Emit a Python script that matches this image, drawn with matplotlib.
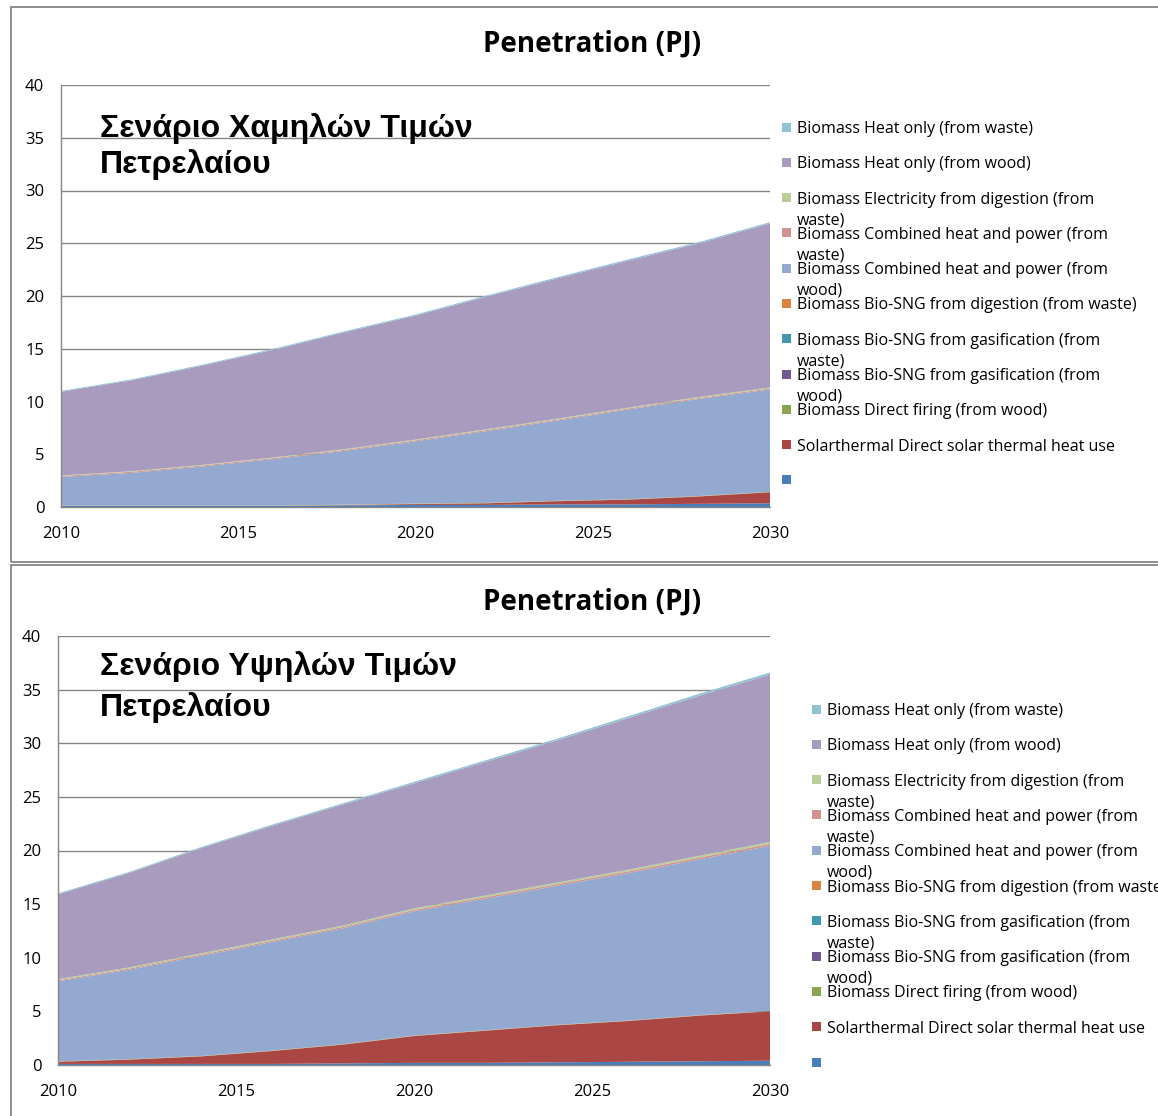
import matplotlib
matplotlib.use("Agg")
import matplotlib.pyplot as plt
from matplotlib.patches import Rectangle

# ---- data (PJ) ----
years = [2010, 2012, 2014, 2016, 2018, 2020, 2022, 2024, 2026, 2028, 2030]

series_names = [
    "",
    "Solarthermal Direct solar thermal heat use",
    "Biomass Direct firing (from wood)",
    "Biomass Bio-SNG from gasification (from\nwood)",
    "Biomass Bio-SNG from gasification (from\nwaste)",
    "Biomass Bio-SNG from digestion (from waste)",
    "Biomass Combined heat and power (from\nwood)",
    "Biomass Combined heat and power (from\nwaste)",
    "Biomass Electricity from digestion (from\nwaste)",
    "Biomass Heat only (from wood)",
    "Biomass Heat only (from waste)",
]
series_colors = [
    "#4A7EBB", "#AA4643", "#89A54E", "#71588F", "#4198AF", "#DB843D",
    "#93A9CF", "#D19392", "#B9CD96", "#A99BBD", "#92C3D4",
]

# Low oil price scenario
low_blank = [0.10, 0.10, 0.10, 0.10, 0.15, 0.20, 0.20, 0.25, 0.25, 0.30, 0.35]
low_solar = [0.00, 0.00, 0.00, 0.00, 0.03, 0.08, 0.15, 0.30, 0.45, 0.70, 1.05]
low_direct_wood = [0.02] * 11
low_sng_gas_wood = [0.00] * 11
low_sng_gas_waste = [0.00] * 11
low_sng_digestion = [0.02] * 11
low_chp_wood = [2.70, 3.10, 3.70, 4.40, 5.10, 5.90, 6.80, 7.60, 8.50, 9.20, 9.70]
low_chp_waste = [0.10, 0.10, 0.10, 0.10, 0.10, 0.10, 0.10, 0.10, 0.10, 0.10, 0.10]
low_elec_digestion = [0.05, 0.05, 0.06, 0.06, 0.07, 0.07, 0.08, 0.08, 0.08, 0.09, 0.09]
low_heat_wood = [7.93, 8.63, 9.41, 10.21, 11.07, 11.75, 12.56, 13.30, 13.93, 14.56, 15.55]
low_heat_waste = [0.08, 0.08, 0.09, 0.09, 0.10, 0.10, 0.11, 0.11, 0.12, 0.12, 0.12]

# High oil price scenario
high_blank = [0.10, 0.10, 0.10, 0.10, 0.15, 0.20, 0.20, 0.25, 0.30, 0.35, 0.40]
high_solar = [0.20, 0.40, 0.70, 1.20, 1.75, 2.50, 3.00, 3.45, 3.80, 4.25, 4.60]
high_direct_wood = [0.02] * 11
high_sng_gas_wood = [0.00] * 11
high_sng_gas_waste = [0.00] * 11
high_sng_digestion = [0.02] * 11
high_chp_wood = [7.46, 8.34, 9.32, 10.12, 10.80, 11.58, 12.26, 12.96, 13.74, 14.52, 15.40]
high_chp_waste = [0.10, 0.11, 0.12, 0.12, 0.13, 0.14, 0.15, 0.15, 0.16, 0.17, 0.18]
high_elec_digestion = [0.10, 0.11, 0.12, 0.12, 0.13, 0.14, 0.15, 0.15, 0.16, 0.17, 0.18]
high_heat_wood = [7.92, 8.81, 9.80, 10.59, 11.28, 11.66, 12.45, 13.24, 14.13, 14.92, 15.60]
high_heat_waste = [0.08, 0.09, 0.10, 0.11, 0.12, 0.14, 0.15, 0.16, 0.17, 0.18, 0.20]

low_series = [low_blank, low_solar, low_direct_wood, low_sng_gas_wood,
              low_sng_gas_waste, low_sng_digestion, low_chp_wood, low_chp_waste,
              low_elec_digestion, low_heat_wood, low_heat_waste]
high_series = [high_blank, high_solar, high_direct_wood, high_sng_gas_wood,
               high_sng_gas_waste, high_sng_digestion, high_chp_wood, high_chp_waste,
               high_elec_digestion, high_heat_wood, high_heat_waste]

chart_title = "Penetration (PJ)"
scenario_low = "Σενάριο Χαμηλών Τιμών\nΠετρελαίου"
scenario_high = "Σενάριο Υψηλών Τιμών\nΠετρελαίου"
y_ticks = [0, 5, 10, 15, 20, 25, 30, 35, 40]
x_ticks = [2010, 2015, 2020, 2025, 2030]

W, H = 1158, 1116
fig = plt.figure(figsize=(W / 100, H / 100), dpi=100)
fig.patch.set_facecolor("white")


def px_rect(x0, y0, x1, y1):
    """Figure-fraction rectangle from pixel box (top-left origin)."""
    return [x0 / W, 1 - y1 / H, (x1 - x0) / W, (y1 - y0) / H]


def draw_chart(frame, axbox, series, scenario, title_y, scen_xy, scen_ls,
               leg_x, leg_y0):
    # outer chart frame
    fx0, fy0, fx1, fy1 = frame
    fig.patches.append(Rectangle((fx0 / W, 1 - fy1 / H), (fx1 - fx0) / W, (fy1 - fy0) / H,
                                 transform=fig.transFigure, fill=False,
                                 edgecolor="#8C8C8C", linewidth=1.4, zorder=0))
    ax = fig.add_axes(px_rect(*axbox))
    ax.stackplot(years, *series, colors=series_colors, linewidth=0, zorder=2)
    ax.set_xlim(2010, 2030)
    ax.set_ylim(0, 40)
    ax.set_yticks(y_ticks)
    ax.set_xticks(x_ticks)
    ax.yaxis.grid(True, color="#878787", linewidth=1.0, zorder=1)
    ax.set_axisbelow(True)
    for s in ("top", "right"):
        ax.spines[s].set_visible(False)
    for s in ("left", "bottom"):
        ax.spines[s].set_color("#878787")
        ax.spines[s].set_linewidth(1.0)
        ax.spines[s].set_zorder(3)
    ax.tick_params(length=0, labelsize=12, colors="black")
    ax.tick_params(axis="y", pad=12)
    ax.tick_params(axis="x", pad=14)
    for lab in ax.get_xticklabels() + ax.get_yticklabels():
        lab.set_fontfamily("Open Sans")
    fig.text(592 / W, 1 - title_y / H, chart_title, ha="center", va="center",
             fontsize=20, fontweight="bold", family="Open Sans")
    fig.text(scen_xy[0] / W, 1 - scen_xy[1] / H, scenario, ha="left", va="top",
             fontsize=23, fontweight="bold", family="Liberation Sans",
             linespacing=scen_ls)
    # legend, top entry = last stacked series
    for i, idx in enumerate(range(len(series_names) - 1, -1, -1)):
        yc = leg_y0 + i * 35.3
        fig.patches.append(Rectangle((leg_x / W, 1 - (yc + 4.5) / H), 9 / W, 9 / H,
                                     transform=fig.transFigure,
                                     facecolor=series_colors[idx], edgecolor="none"))
        if series_names[idx]:
            fig.text((leg_x + 15) / W, 1 - (yc - 6) / H, series_names[idx],
                     ha="left", va="top", fontsize=11.5, family="Open Sans",
                     linespacing=1.38)


draw_chart((11, 7, 1170, 562), (61, 85, 770, 507), low_series, scenario_low,
           44, (100, 113), 1.22, 782, 127)
draw_chart((11, 565, 1170, 1130), (58, 636, 770, 1065), high_series, scenario_high,
           602, (100, 651), 1.42, 812, 709)

fig.savefig("out.png", dpi=100, facecolor="white")
